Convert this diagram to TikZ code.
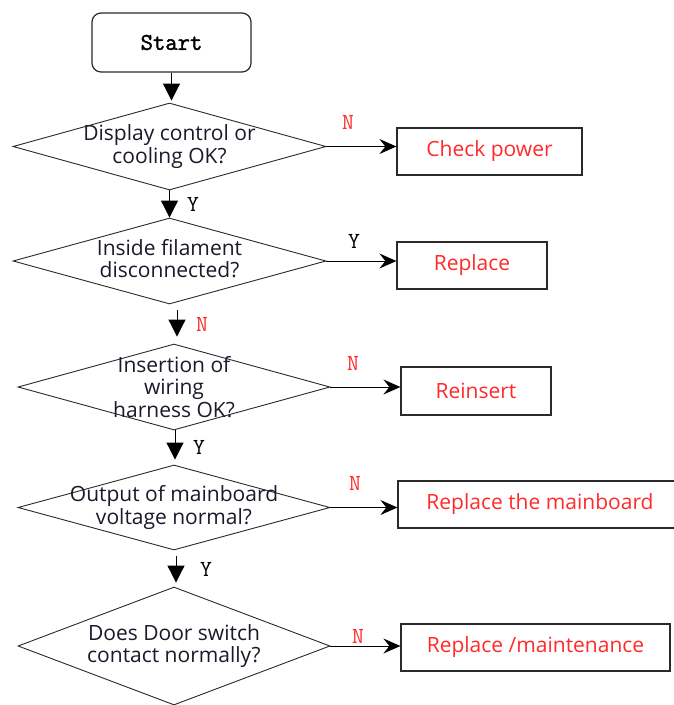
\documentclass[tikz,border=0pt]{standalone}
\usepackage{fontspec}
\setmainfont{Open Sans}
\newfontfamily\startfont{Latin Modern Mono}[FakeBold=1.6]
\usetikzlibrary{shapes.geometric,arrows.meta,calc}
\definecolor{qred}{HTML}{FF2A2A}
\definecolor{qdark}{HTML}{1A1A2A}
\definecolor{qline}{HTML}{2A2A2A}
\begin{document}
\begin{tikzpicture}[x=1pt,y=-1pt,
  dia/.style={shape=diamond, draw=qline, line width=0.9pt, inner sep=0pt, minimum width=312pt},
  qtext/.style={align=center, text=qdark, font=\fontsize{21}{22.5}\selectfont, inner sep=0pt},
  actbox/.style={draw=qline, line width=1.2pt, minimum height=47pt, inner sep=0pt, text=qred, font=\fontsize{21}{22.5}\selectfont},
  ylab/.style={font=\ttfamily\fontsize{23}{23}\selectfont, text=black, inner sep=0pt},
  nlab/.style={font=\ttfamily\fontsize{23}{23}\selectfont, text=qred, inner sep=0pt},
  varrow/.style={draw=black, line width=1pt, -{Triangle[width=17pt,length=17pt]}},
  harrow/.style={draw=black, line width=1pt, -{Stealth[width=15pt,length=17pt,inset=6pt]}}
]
\useasboundingbox (0,0) rectangle (674,705);
\clip (0,0) rectangle (674,705);
\fill[white] (0,0) rectangle (674,705);

% start
\node[draw=qline, line width=1.2pt, rounded corners=9pt, minimum width=159pt, minimum height=59pt, inner sep=0pt,
      font=\startfont\fontsize{24}{24}\selectfont] (start) at (171.5,42.5) {Start};

% diamonds
\node[dia, minimum width=313pt, minimum height=87pt,
      label={[qtext]center:Display control or\\cooling OK?}] (d1) at (169.5,146.5) {};
\node[dia, minimum width=313pt, minimum height=86pt,
      label={[qtext, yshift=2.5pt]center:Inside filament\\disconnected?}] (d2) at (169.5,261) {};
\node[dia, minimum height=86pt,
      label={[qtext]center:Insertion of\\wiring\\harness OK?}] (d3) at (174,387) {};
\node[dia, minimum height=85pt,
      label={[qtext]center:Output of mainboard\\voltage normal?}] (d4) at (174,507.5) {};
\node[dia, minimum height=118pt,
      label={[qtext]center:Does Door switch\\contact normally?}] (d5) at (174,646) {};

% action boxes
\node[actbox, minimum width=185pt] (b1) at (489.5,151.5) {Check power};
\node[actbox, minimum width=150pt] (b2) at (472,265.5) {Replace};
\node[actbox, minimum width=150pt, minimum height=48pt] (b3) at (476,391) {Reinsert};
\node[actbox, minimum width=284pt] (b4) at (540,504.5) {Replace the mainboard};
\node[actbox, minimum width=269pt] (b5) at (535.5,647.5) {Replace /maintenance};

% vertical connectors
\draw[varrow] (start.south) -- ([yshift=2pt]start.south |- d1.north);
\draw[varrow] (d1.south) -- (d2.north);
\draw[varrow] ([shift={(7.5,6)}]d2.south) -- ([shift={(3,-7)}]d3.north);
\draw[varrow] ([shift={(1,0)}]d3.south) -- ([shift={(1,-5)}]d4.north);
\draw[varrow] ([shift={(2,6)}]d4.south) -- ([shift={(2,-4)}]d5.north);

% horizontal connectors
\draw[harrow] (d1.east) -- (d1.east -| b1.west);
\draw[harrow] (d2.east) -- (d2.east -| b2.west);
\draw[harrow] (d3.east) -- (d3.east -| b3.west);
\draw[harrow] (d4.east) -- (d4.east -| b4.west);
\draw[harrow] (d5.east) -- (d5.east -| b5.west);

% labels
\node[ylab] (l1) at (193,204) {Y};
\node[nlab] (l2) at (202,324) {N};
\node[ylab] (l3) at (199,447) {Y};
\node[ylab] (l4) at (206,569) {Y};
\node[nlab] (r1) at (348,122) {N};
\node[ylab] (r2) at (354,241) {Y};
\node[nlab] (r3) at (353,363) {N};
\node[nlab] (r4) at (355,483) {N};
\node[nlab] (r5) at (358,636) {N};
\end{tikzpicture}
\end{document}
